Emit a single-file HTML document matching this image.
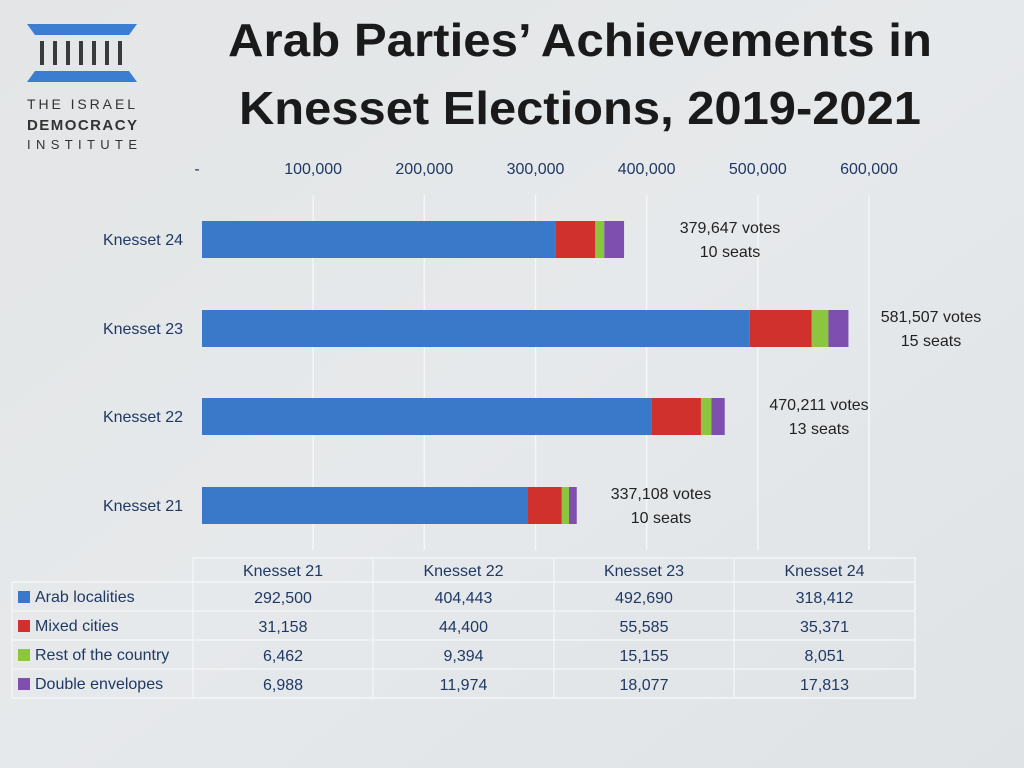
<!DOCTYPE html>
<html><head><meta charset="utf-8"><style>
body{margin:0;width:1024px;height:768px;overflow:hidden;background:#e4e8ea}
svg{display:block;font-family:"Liberation Sans",sans-serif}
</style></head><body>
<svg id="c" width="1024" height="768" viewBox="0 0 1024 768">
<defs><linearGradient id="bg" x1="0" y1="0" x2="1" y2="1"><stop offset="0" stop-color="#e3e5e6"/><stop offset="0.5" stop-color="#e6e9eb"/><stop offset="1" stop-color="#dfe3e6"/></linearGradient></defs>
<rect width="1024" height="768" fill="url(#bg)"/>
<g>
<polygon points="27,24 137,24 129,35 35,35" fill="#3b7dd0"/>
<polygon points="35,71 129,71 137,82 27,82" fill="#3b7dd0"/>
<g fill="#3a3a3a"><rect x="40" y="41" width="4" height="24"/><rect x="53" y="41" width="4" height="24"/><rect x="66" y="41" width="4" height="24"/><rect x="79" y="41" width="4" height="24"/><rect x="92" y="41" width="4" height="24"/><rect x="105" y="41" width="4" height="24"/><rect x="118" y="41" width="4" height="24"/></g>
<text x="27" y="109" font-size="14" fill="#333" textLength="110" letter-spacing="2">THE ISRAEL</text>
<text x="27" y="130" font-size="15" font-weight="bold" fill="#333" textLength="110">DEMOCRACY</text>
<text x="27" y="149" font-size="13" fill="#333" textLength="110">INSTITUTE</text>
</g>
<text x="580" y="56" text-anchor="middle" font-size="46" font-weight="bold" fill="#1a1a1a" textLength="704" lengthAdjust="spacingAndGlyphs">Arab Parties’ Achievements in</text>
<text x="580" y="124" text-anchor="middle" font-size="46" font-weight="bold" fill="#1a1a1a" textLength="682" lengthAdjust="spacingAndGlyphs">Knesset Elections, 2019-2021</text>
<g id="axis"></g><g id="bars"></g><g id="table"></g>
</svg>
<script>
const categories=["Knesset 21","Knesset 22","Knesset 23","Knesset 24"];
const arab=[292500,404443,492690,318412];
const mixed=[31158,44400,55585,35371];
const rest=[6462,9394,15155,8051];
const dbl=[6988,11974,18077,17813];
const totals=["337,108 votes","470,211 votes","581,507 votes","379,647 votes"];
const seats=["10 seats","13 seats","15 seats","10 seats"];
const ticks=[0,100000,200000,300000,400000,500000,600000];
const tickLabels=["-","100,000","200,000","300,000","400,000","500,000","600,000"];
const seriesNames=["Arab localities","Mixed cities","Rest of the country","Double envelopes"];
const colors=["#3a78c9","#d0312d","#8cc63f","#7f4fb0"];
const NS="http://www.w3.org/2000/svg";
function mk(tag,attrs,parent,txt){const e=document.createElementNS(NS,tag);for(const k in attrs)e.setAttribute(k,attrs[k]);if(txt!==undefined)e.textContent=txt;parent.appendChild(e);return e;}
const x=v=>202+v*667/600000;
const yc=i=>[505,416,328,239][i];
const axis=document.getElementById('axis'),bars=document.getElementById('bars'),table=document.getElementById('table');
ticks.forEach((t,i)=>{
 if(i>0){const g=mk('line',{x1:x(t),x2:x(t),y1:195,y2:550,stroke:'#f4f6f7','stroke-width':1.5},axis);
 }
 const l=mk('text',{x:i==0?197:x(t),y:174,'text-anchor':'middle','font-size':16,fill:'#1f3864'},axis,tickLabels[i]);
 
});
const series=[arab,mixed,rest,dbl];
categories.forEach((c,i)=>{
 const lab=mk('text',{x:183,y:yc(i)+6,'text-anchor':'end','font-size':16,fill:'#1f3864'},axis,c);
 
 let acc=0;
 series.forEach((s,k)=>{
  const r=mk('rect',{x:x(acc),y:yc(i)-18,width:x(acc+s[i])-x(acc),height:37,fill:colors[k]},bars);
  
  acc+=s[i];
 });
 const tx=x(acc)+50+(i==2?0:0);
 const cx=[661,819,931,730][i];
 const t1=mk('text',{x:cx,y:yc(i)-6,'text-anchor':'middle','font-size':16,fill:'#222'},bars,totals[i]);
 
 const t2=mk('text',{x:cx,y:yc(i)+18,'text-anchor':'middle','font-size':16,fill:'#222'},bars,seats[i]);
 
});
// table
const colX=[193,373,554,734,915];
const rowY=[558,582,611,640,669,698];
mk('rect',{x:12,y:582,width:903,height:116,fill:'none',stroke:'#f2f4f6','stroke-width':1.5},table);
mk('rect',{x:193,y:558,width:722,height:140,fill:'none',stroke:'#f2f4f6','stroke-width':1.5},table);
colX.slice(1,4).forEach(cx=>mk('line',{x1:cx,x2:cx,y1:558,y2:698,stroke:'#f2f4f6','stroke-width':1.5},table));
rowY.slice(1,5).forEach(ry=>mk('line',{x1:12,x2:915,y1:ry,y2:ry,stroke:'#f2f4f6','stroke-width':1.5},table));
categories.forEach((c,i)=>{
 const h=mk('text',{x:(colX[i]+colX[i+1])/2,y:576,'text-anchor':'middle','font-size':16,fill:'#1f3864'},table,c);
 
});
series.forEach((s,k)=>{
 const ry=rowY[k+1];
 const sw=mk('rect',{x:18,y:ry+9,width:12,height:12,fill:colors[k]},table);
 
 const n=mk('text',{x:35,y:ry+20,'font-size':16,fill:'#1f3864'},table,seriesNames[k]);
 
 s.forEach((v,i)=>{
  const t=mk('text',{x:(colX[i]+colX[i+1])/2,y:ry+21,'text-anchor':'middle','font-size':16,fill:'#1f3864'},table,v.toLocaleString('en-US'));
  
 });
});
</script>
</body></html>
